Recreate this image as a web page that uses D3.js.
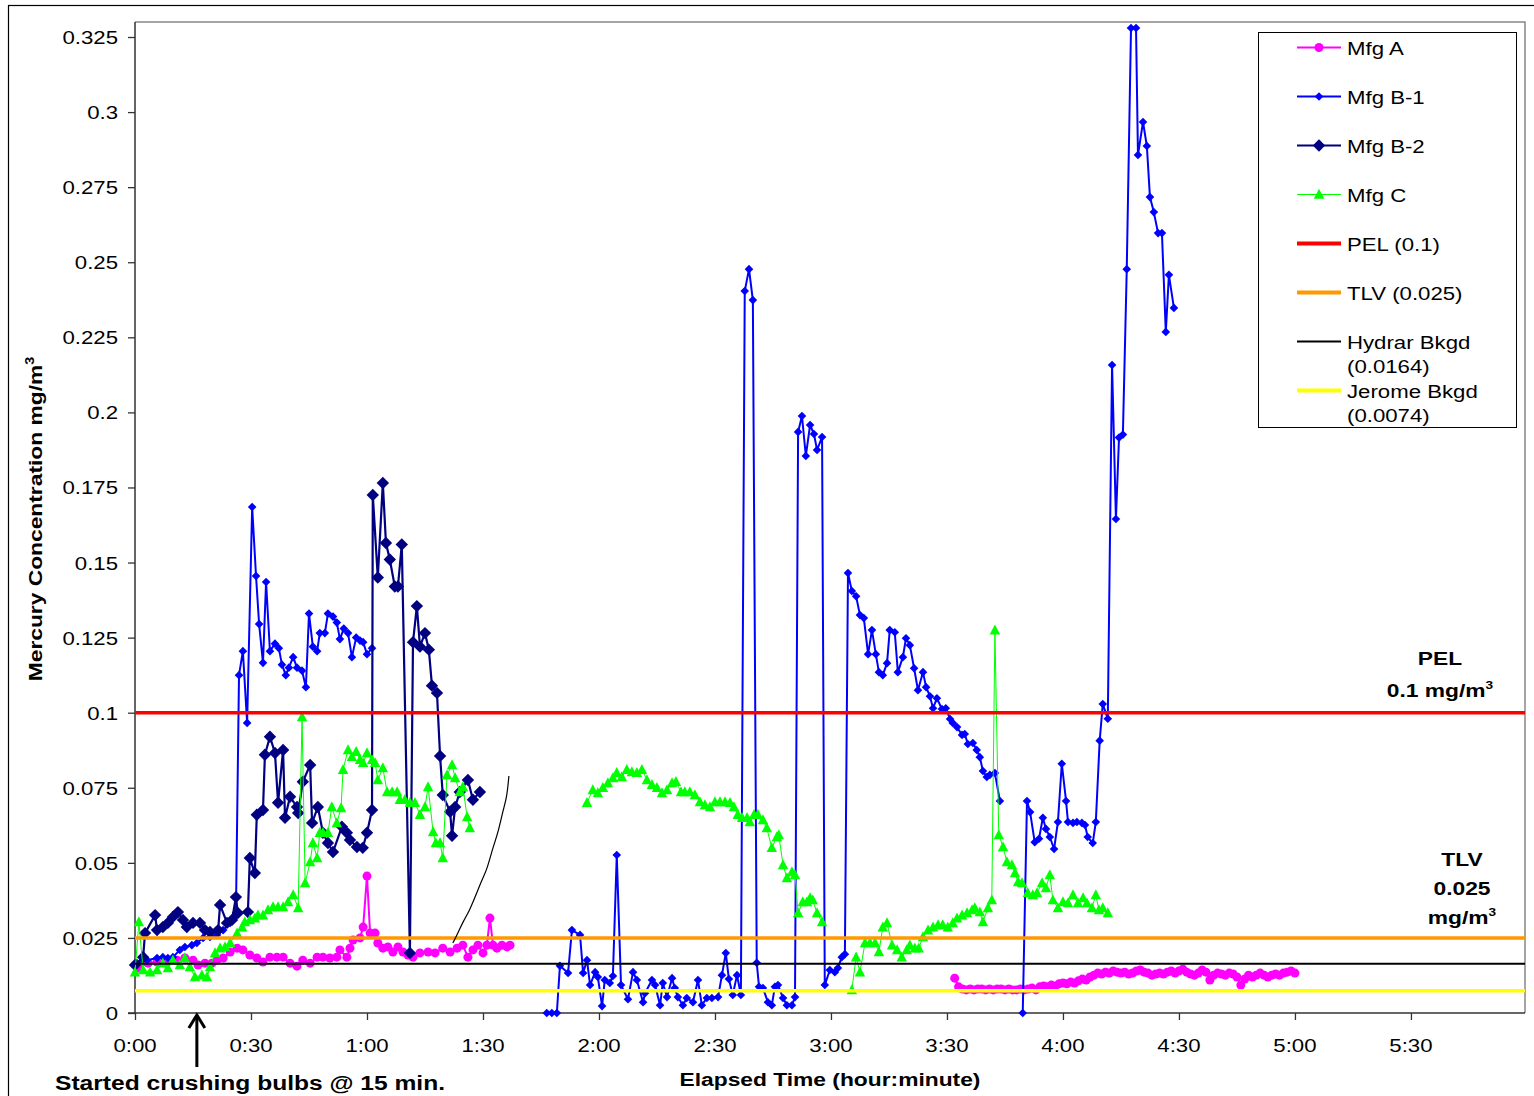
<!DOCTYPE html>
<html><head><meta charset="utf-8">
<script src="https://cdn.jsdelivr.net/npm/d3@7"></script>
<style>
body{margin:0;background:#fff}
svg{display:block}
text{font-family:Arial,"Liberation Sans",sans-serif;fill:#000}
</style>
</head><body>
<svg id="chart" width="1534" height="1096"></svg>
<script>
// ---------------- DATA (minutes elapsed, mg/m3) ----------------
const mfgA = [[0.8,.015],[3.4,.0166],[5.7,.017],[8.3,.017],[10.9,.0176],[12.9,.0183],[15,.0176],[16.3,.016],[18.1,.0166],[19.9,.0166],[21.2,.0176],[22.8,.0183],[24.6,.0203],[26.4,.0216],[27.9,.021],[29.7,.0193],[31.5,.0183],[33.1,.017],[34.9,.0186],[36.7,.0186],[38.3,.0186],[40.1,.0166],[41.9,.0156],[43.4,.0176],[45.3,.0166],[47.1,.0186],[48.6,.0186],[50.4,.0183],[52.2,.0186],[53,.021],[54.8,.0186],[55.6,.0216],[56.4,.0243],[58.2,.025],[59,.0286],[60,.0456],[60.8,.0266],[62.1,.0266],[62.8,.0233],[64.1,.0216],[65.4,.022],[66.7,.0203],[68,.022],[69.3,.0203],[70.6,.0193],[71.9,.0186],[73.7,.02],[75.8,.0203],[77.6,.02],[79.6,.0216],[81.5,.0203],[83.3,.0216],[84.8,.0226],[86.1,.0186],[87.4,.021],[88.7,.0226],[90,.02],[91,.0226],[91.8,.0316],[92.6,.0226],[93.6,.0216],[94.9,.0226],[96.2,.022],[97,.0226],
[150,null],
[212,.0116],[213,.0087],[214,.008],[215,.0077],[216,.008],[217,.0077],[218,.008],[219,.008],[220,.0077],[221,.008],[222,.0077],[223,.008],[224,.008],[225,.0077],[226,.008],[227,.0077],[228,.0077],[229,.008],[230,.0077],[231,.008],[232,.0083],[233,.0077],[234,.0087],[235,.009],[236,.0087],[237,.0093],[238,.009],[239,.0097],[240,.01],[241,.0097],[242,.0103],[243,.01],[244,.0107],[245,.0113],[246,.011],[247,.012],[248,.0126],[249,.0133],[250,.013],[251,.0136],[252,.0133],[253,.014],[254,.0136],[255,.0133],[256,.0136],[257,.013],[258,.0133],[259,.014],[260,.0143],[261,.0136],[262,.0133],[263,.0126],[264,.013],[265,.0133],[266,.013],[267,.0136],[268,.014],[269,.0133],[270,.014],[271,.0146],[272,.0136],[273,.013],[274,.0126],[275,.0133],[276,.0143],[277,.0136],[278,.011],[279,.0126],[280,.0133],[281,.013],[282,.0126],[283,.0133],[284,.013],[285,.012],[286,.0093],[287,.0113],[288,.0126],[289,.012],[290,.0126],[291,.0133],[292,.0126],[293,.012],[294,.0126],[295,.013],[296,.0126],[297,.0133],[298,.0136],[299,.014],[300,.0133]];

const mfgB1 = [[0.5,.0166],[3.1,.0176],[5.7,.0183],[7.2,.0186],[8.5,.0183],[9.8,.0186],[11.6,.021],[12.9,.022],[14.7,.0226],[16,.0233],[17.6,.025],[19.4,.0253],[21.2,.026],[22.8,.0276],[24.6,.03],[25.3,.0316],[26.1,.0326],[26.9,.1125],[27.9,.1205],[29,.0966],[30.3,.1685],[31.3,.1455],[32.1,.1295],[33.1,.1166],[33.9,.1435],[34.9,.1205],[36.2,.123],[37.2,.1215],[38,.116],[39,.1125],[39.8,.115],[40.9,.1185],[41.9,.115],[43.2,.114],[44.2,.1085],[45,.133],[46,.122],[47.1,.1205],[47.8,.1265],[49.1,.1265],[49.9,.133],[51.2,.132],[52.2,.13],[53,.1245],[54,.128],[55.1,.1265],[56.1,.1185],[57.2,.125],[58.2,.124],[59,.1235],[60,.1195],[61.3,.1215],
[80,null],
[106.5,0],[107.8,0],[109.1,0],[109.9,.0157],[112,.0133],[113,.0276],[115.1,.026],[115.9,.0133],[116.9,.0176],[117.7,.0093],[119,.0136],[119.7,.012],[120.8,.0023],[121.5,.011],[122.8,.01],[123.6,.0123],[124.6,.0526],[125.7,.0093],[127.5,.0046],[128.8,.0136],[129.8,.011],[131.4,.0036],[131.9,.0066],[133.7,.011],[134.5,.0093],[135.8,.0026],[136.5,.01],[137.6,.0053],[138.9,.0116],[139.6,.0083],[140.4,.0053],[141.7,.0026],[142.7,.005],[144.3,.0036],[145.6,.011],[146.6,.0026],[147.9,.005],[149.2,.005],[150.8,.0053],[151.8,.0126],[152.8,.02],[153.6,.0113],[154.6,.006],[155.7,.0126],[156.7,.006],[157.7,.2404],[158.8,.2477],[159.8,.2374],[160.8,.0167],[161.4,.0087],[162.4,.0083],[163.7,.0036],[164.7,.0026],[165.5,.0087],[166.3,.0093],[167.6,.005],[168.6,.0026],[169.9,.0026],[170.7,.0053],[171.5,.1935],[172.5,.1988],[173.5,.1855],[174.6,.1958],[175.6,.1928],[176.4,.1875],[177.7,.1918],[178.4,.0093],[179.7,.0143],[181,.0136],[181.8,.015],[182.8,.0186],[183.6,.0196],[184.4,.1465],[185.4,.1405],[186.5,.1388],[187.5,.1325],[188.5,.1315],[189.6,.1195],[190.6,.1275],[191.6,.1195],[192.4,.1135],[193.4,.1125],[194.5,.1165],[195.2,.1275],[196.5,.1268],[197.3,.1135],[198.6,.1185],[199.4,.1248],[200.4,.1225],[201.5,.1148],[202.5,.1075],[203.8,.1135],[204.6,.1085],[205.6,.1055],[206.4,.1015],[207.4,.1048],[208.7,.1012],[209.7,.1015],[210.8,.0979],[211.5,.0966],[212.6,.0952],[213.9,.0926],[214.6,.0929],[215.4,.0896],[216.7,.0899],[217.7,.0876],[218.5,.0852],[219.3,.0806],[220.3,.0786],[221.1,.0793],[222.4,.0799],[223.7,.0706],
[226,null],
[229.6,0],[230.7,.0706],[231.5,.0669],[232.7,.0569],[233.8,.058],[234.8,.065],[235.6,.0613],[236.6,.0586],[237.7,.0546],[238.7,.0636],[239.7,.083],[240.8,.0706],[241.3,.0636],[242.6,.0633],[243.6,.0636],[244.9,.0633],[245.7,.0626],[246.4,.0586],[247.7,.0566],[248.5,.0636],[249.5,.0907],[250.3,.1029],[251.6,.098],[252.7,.2158],[253.7,.1645],[254.5,.1916],[255.5,.1926],[256.5,.2477],[257.6,.328],[258.9,.328],[259.4,.2857],[260.7,.2967],[261.7,.2887],[262.5,.2717],[263.5,.2667],[264.6,.2597],[265.6,.2597],[266.6,.2268],[267.4,.2458],[268.7,.2348]];

const mfgB2 = [[0,.016],[2.1,.0186],[2.6,.0266],[5.2,.0326],[5.7,.0276],[7.2,.0286],[8.5,.03],[9.8,.032],[11.1,.0336],[12.4,.031],[13.4,.0286],[15,.03],[16.8,.03],[18.1,.0276],[19.4,.027],[21.5,.0276],[22,.036],[23.8,.03],[25.1,.031],[26.1,.0386],[26.6,.0333],[29.2,.0336],[29.7,.0516],[31,.0466],[31.5,.066],[33.1,.0676],[33.6,.086],[34.9,.092],[36.2,.0866],[37,.07],[38.3,.0876],[38.8,.065],[40.1,.072],[41.9,.0686],[42.2,.0666],[43.4,.077],[45.3,.0826],[45.8,.0633],[47.3,.0686],[48.6,.06],[49.9,.0566],[51.2,.0536],[53.5,.062],[54.8,.06],[55.6,.0576],[57.4,.0553],[58.9,.055],[60,.06],[61.3,.0676],[61.5,.1725],[62.8,.145],[64.1,.1765],[64.9,.1565],[65.9,.151],[67.2,.142],[68,.142],[69,.156],[71.1,.02],[71.9,.1235],[72.9,.1355],[73.7,.122],[75,.1265],[76,.121],[76.8,.109],[78.1,.1066],[78.9,.0856],[79.6,.0726],[81.5,.067],[82,.059],[82.8,.0686],[84,.0736],[86.1,.0776],[87.4,.071],[89.2,.0736]];

const mfgC = [[0,.0136],[1,.0303],[2.1,.0143],[3.9,.0136],[5.7,.0143],[7.2,.0166],[8.5,.015],[9.8,.0176],[11.6,.016],[12.9,.0183],[14.2,.0153],[15.5,.012],[17.3,.0126],[18.6,.012],[19.4,.0153],[20.7,.02],[22,.0216],[23.3,.022],[24.6,.0233],[26.4,.0266],[27.7,.0286],[28.4,.0303],[29.7,.031],[31,.0316],[31.8,.0326],[33.1,.0326],[34.4,.0343],[35.7,.0353],[37,.0353],[38.3,.0353],[39.6,.037],[40.9,.0393],[42.2,.035],[43.2,.0986],[44,.0433],[45.3,.0503],[46,.0566],[47.1,.0516],[47.8,.06],[48.6,.06],[49.9,.06],[50.9,.0686],[52.2,.0633],[53.3,.0683],[53.8,.081],[55.1,.0876],[56.1,.0853],[57.2,.087],[58.2,.0843],[59,.0833],[60,.0866],[61.3,.0843],[62.1,.0833],[62.8,.0776],[64.1,.0816],[65.2,.0736],[66.5,.0736],[67.8,.0736],[68.5,.071],[69.8,.071],[71.1,.07],[72.4,.07],[73.7,.066],[75,.0686],[75.8,.0753],[77.1,.0603],[77.8,.0566],[78.9,.0566],[79.6,.0516],[80.7,.0793],[82,.0826],[82.8,.0783],[84,.0736],[84.8,.0753],[85.9,.0653],[86.6,.0616],
[100,null],
[116.9,.07],[118.4,.0743],[119.7,.0733],[121,.075],[122.3,.0766],[123.6,.0783],[124.6,.08],[125.9,.0786],[127.2,.081],[128.5,.0803],[129.8,.08],[131.1,.081],[132.4,.0776],[133.7,.076],[135,.075],[136.3,.0733],[137.6,.0743],[138.9,.0766],[139.9,.077],[141.2,.0736],[142.2,.0736],[143.5,.0736],[144.8,.0726],[146.1,.0703],[147.4,.0693],[148.7,.0686],[150,.0703],[151.3,.0703],[152.6,.0703],[153.9,.07],[154.9,.0686],[155.9,.066],[157,.065],[158.3,.065],[159,.0636],[160.1,.066],[161.1,.066],[162.4,.0643],[163.4,.0616],[164.7,.055],[166,.0586],[166.5,.0593],[167.6,.0493],[168.6,.045],[169.9,.047],[170.7,.046],[171.5,.0333],[172.7,.037],[173.8,.037],[174.6,.0383],[175.3,.0376],[176.4,.0333],[177.7,.0303],
[181,null],
[185.4,.0077],[186.5,.0186],[187.5,.0136],[188.8,.0233],[190.1,.0233],[191.4,.0233],[192.4,.0203],[193.4,.0286],[194.5,.03],[195.8,.0226],[197.1,.021],[198.3,.0186],[199.6,.021],[200.4,.0226],[201.7,.0216],[202.7,.0216],[203.8,.0253],[205.1,.0276],[206.4,.0286],[207.7,.0293],[208.9,.0293],[210.2,.0286],[211.5,.03],[212.6,.0316],[213.9,.0326],[215.2,.0333],[216.5,.0343],[217.2,.035],[218.5,.0336],[219.3,.0303],[220.6,.035],[221.6,.0376],[222.4,.1275],[223.4,.0593],[224.5,.0553],[225.5,.0503],[226.8,.0493],[227.6,.0466],[228.4,.0436],[229.4,.0433],[230.9,.04],[232.2,.0393],[233.3,.04],[234.6,.0433],[235.6,.0416],[236.6,.046],[237.4,.0376],[238.7,.035],[240,.037],[241.3,.0366],[242.6,.0393],[243.9,.0366],[245.2,.0383],[246.2,.0366],[247.5,.035],[248.5,.0393],[249.3,.0343],[250.3,.035],[251.6,.0333]];

// thin hand-drawn trace near 1:22 - 1:37
const hydrarTrace = [[82.2,.0233],[83.5,.0266],[84.8,.0303],[86.6,.0343],[88.4,.04],[89.7,.0443],[91,.0476],[92.6,.0553],[93.9,.06],[95.2,.0676],[96.2,.072],[96.7,.0789]];

const PEL = 0.1;
const TLV = 0.025;
const HYDRAR_BKGD = 0.0164;
const JEROME_BKGD = 0.0074;
const CRUSH_START_MIN = 16;

const xTicks = [0,30,60,90,120,150,180,210,240,270,300,330];
const xTickLabels = ["0:00","0:30","1:00","1:30","2:00","2:30","3:00","3:30","4:00","4:30","5:00","5:30"];
const yTicks = [0,0.025,0.05,0.075,0.1,0.125,0.15,0.175,0.2,0.225,0.25,0.275,0.3,0.325];
const yTickLabels = ["0","0.025","0.05","0.075","0.1","0.125","0.15","0.175","0.2","0.225","0.25","0.275","0.3","0.325"];

const legendLabels = ["Mfg A","Mfg B-1","Mfg B-2","Mfg C","PEL (0.1)","TLV (0.025)","Hydrar Bkgd|(0.0164)","Jerome Bkgd|(0.0074)"];

// ---------------- DRAW ----------------
const SX = 1.2; // horizontal text stretch
const svg = d3.select("#chart");
const L = 135, T = 22, R = 1525, B = 1013;
const x = d3.scaleLinear().domain([0, 359.5]).range([L, R]);
const y = d3.scaleLinear().domain([0, 0.33]).range([B, T]);

function txt(parent, px, py, str, o = {}) {
  const t = parent.append("text")
    .attr("transform", `translate(${px},${py}) scale(${SX},1)`)
    .attr("font-size", o.size || 18.5)
    .attr("font-weight", o.bold ? "bold" : "normal")
    .attr("text-anchor", o.anchor || "start");
  if (o.sup) {
    t.append("tspan").text(str);
    t.append("tspan").attr("dy", -8).attr("font-size", (o.size || 18.5) * 0.6).text(o.sup);
  } else t.text(str);
  return t;
}

// outer border
svg.append("rect").attr("x", 8.5).attr("y", 5.5).attr("width", 1540).attr("height", 1100)
  .attr("fill", "none").attr("stroke", "#000").attr("stroke-width", 1.2);

// plot frame (top/right grey)
svg.append("path").attr("d", `M${L},${T}H${R}V${B}`).attr("fill", "none").attr("stroke", "#888").attr("stroke-width", 1.5);

// axes
const yAxis = d3.axisLeft(y).tickValues(yTicks).tickSize(7).tickFormat("");
const xAxis = d3.axisBottom(x).tickValues(xTicks).tickSize(7).tickFormat("");
const gy = svg.append("g").attr("transform", `translate(${L},0)`).call(yAxis);
const gx = svg.append("g").attr("transform", `translate(0,${B})`).call(xAxis);
[gx, gy].forEach(g => {
  g.select(".domain").attr("stroke", "#333").attr("stroke-width", 1.5);
  g.selectAll(".tick line").attr("stroke", "#333").attr("stroke-width", 1.3);
});
gy.select(".domain").attr("d", `M-7,${y(0)}H0V${T}`);
gx.select(".domain").attr("d", `M${L},0H${R}`);

yTicks.forEach((v, i) => txt(svg, 118, y(v) + 7, yTickLabels[i], {anchor: "end"}));
xTicks.forEach((v, i) => txt(svg, x(v), 1052, xTickLabels[i], {anchor: "middle"}));

// axis titles
svg.append("text")
  .attr("transform", `translate(42,519) rotate(-90) scale(${SX},1)`)
  .attr("text-anchor", "middle").attr("font-size", 19).attr("font-weight", "bold")
  .call(t => {
    t.append("tspan").text("Mercury Concentration mg/m");
    t.append("tspan").attr("dy", -8).attr("font-size", 12).text("3");
  });
txt(svg, 830, 1086, "Elapsed Time (hour:minute)", {bold: true, size: 19, anchor: "middle"});

// series
const plot = svg.append("g");
const lineGen = d3.line().defined(d => d[1] != null).x(d => x(d[0])).y(d => y(d[1]));
const diamond = r => `M0,${-r}L${r},0L0,${r}L${-r},0Z`;
const triangle = s => `M0,${-s*0.6}L${s*0.55},${s*0.45}L${-s*0.55},${s*0.45}Z`;

function series(data, color, lw, marker) {
  plot.append("path").datum(data).attr("d", lineGen).attr("fill", "none")
    .attr("stroke", color).attr("stroke-width", lw).attr("stroke-linejoin", "round");
  const pts = data.filter(d => d[1] != null);
  const g = plot.append("g");
  if (marker.type === "circle") {
    g.selectAll("circle").data(pts).join("circle")
      .attr("cx", d => x(d[0])).attr("cy", d => y(d[1])).attr("r", marker.size).attr("fill", color);
  } else {
    const p = marker.type === "diamond" ? diamond(marker.size) : triangle(marker.size);
    g.selectAll("path").data(pts).join("path")
      .attr("transform", d => `translate(${x(d[0])},${y(d[1])})`).attr("d", p).attr("fill", color);
  }
}
series(mfgA, "#FF00FF", 2, {type: "circle", size: 4.5});
series(mfgB1, "#0000FF", 2, {type: "diamond", size: 4.3});
series(mfgB2, "#000080", 2.2, {type: "diamond", size: 6.2});
series(mfgC, "#00FF00", 1, {type: "triangle", size: 9.5});

// reference lines
function hline(v, color, w) {
  svg.append("line").attr("x1", L).attr("x2", R).attr("y1", y(v)).attr("y2", y(v))
    .attr("stroke", color).attr("stroke-width", w);
}
hline(PEL, "#FF0000", 3.5);
hline(TLV, "#FF9900", 3.5);
hline(HYDRAR_BKGD, "#000000", 1.8);
hline(JEROME_BKGD, "#FFFF00", 3.5);

// hand-drawn trace
svg.append("path").datum(hydrarTrace)
  .attr("d", d3.line().curve(d3.curveBasis).x(d => x(d[0])).y(d => y(d[1])))
  .attr("fill", "none").attr("stroke", "#000").attr("stroke-width", 1.2);

// annotations on right
txt(svg, 1440, 665, "PEL", {bold: true, size: 19, anchor: "middle"});
txt(svg, 1440, 697, "0.1 mg/m", {bold: true, size: 19, anchor: "middle", sup: "3"});
txt(svg, 1462, 866, "TLV", {bold: true, size: 19, anchor: "middle"});
txt(svg, 1462, 895, "0.025", {bold: true, size: 19, anchor: "middle"});
txt(svg, 1462, 924, "mg/m", {bold: true, size: 19, anchor: "middle", sup: "3"});

// arrow + note
const ax = x(CRUSH_START_MIN);
svg.append("line").attr("x1", ax).attr("x2", ax).attr("y1", 1067).attr("y2", 1016)
  .attr("stroke", "#000").attr("stroke-width", 3);
svg.append("path").attr("d", `M${ax-8},${1028}L${ax},${1015}L${ax+8},${1028}`)
  .attr("fill", "none").attr("stroke", "#000").attr("stroke-width", 3);
txt(svg, 55, 1090, "Started crushing bulbs @ 15 min.", {bold: true, size: 20.5});

// legend
const lg = svg.append("g");
lg.append("rect").attr("x", 1258.5).attr("y", 32.5).attr("width", 258).attr("height", 395)
  .attr("fill", "#fff").attr("stroke", "#000").attr("stroke-width", 1);
const legendStyles = [
  {c: "#FF00FF", w: 2, m: "circle", s: 4.5},
  {c: "#0000FF", w: 2, m: "diamond", s: 4.3},
  {c: "#000080", w: 2.2, m: "diamond", s: 6.2},
  {c: "#00FF00", w: 1, m: "triangle", s: 9.5},
  {c: "#FF0000", w: 4},
  {c: "#FF9900", w: 4},
  {c: "#000000", w: 2},
  {c: "#FFFF00", w: 4}
];
legendLabels.forEach((lab, i) => {
  const cy = 47.5 + i * 49;
  const st = legendStyles[i];
  lg.append("line").attr("x1", 1297).attr("x2", 1341).attr("y1", cy).attr("y2", cy)
    .attr("stroke", st.c).attr("stroke-width", st.w);
  if (st.m === "circle") lg.append("circle").attr("cx", 1319).attr("cy", cy).attr("r", st.s).attr("fill", st.c);
  else if (st.m === "diamond") lg.append("path").attr("transform", `translate(1319,${cy})`).attr("d", diamond(st.s)).attr("fill", st.c);
  else if (st.m === "triangle") lg.append("path").attr("transform", `translate(1319,${cy})`).attr("d", triangle(st.s)).attr("fill", st.c);
  const parts = lab.split("|");
  parts.forEach((p, j) => txt(lg, 1347, cy + 7 + j * 24, p));
});
</script>
</body></html>
